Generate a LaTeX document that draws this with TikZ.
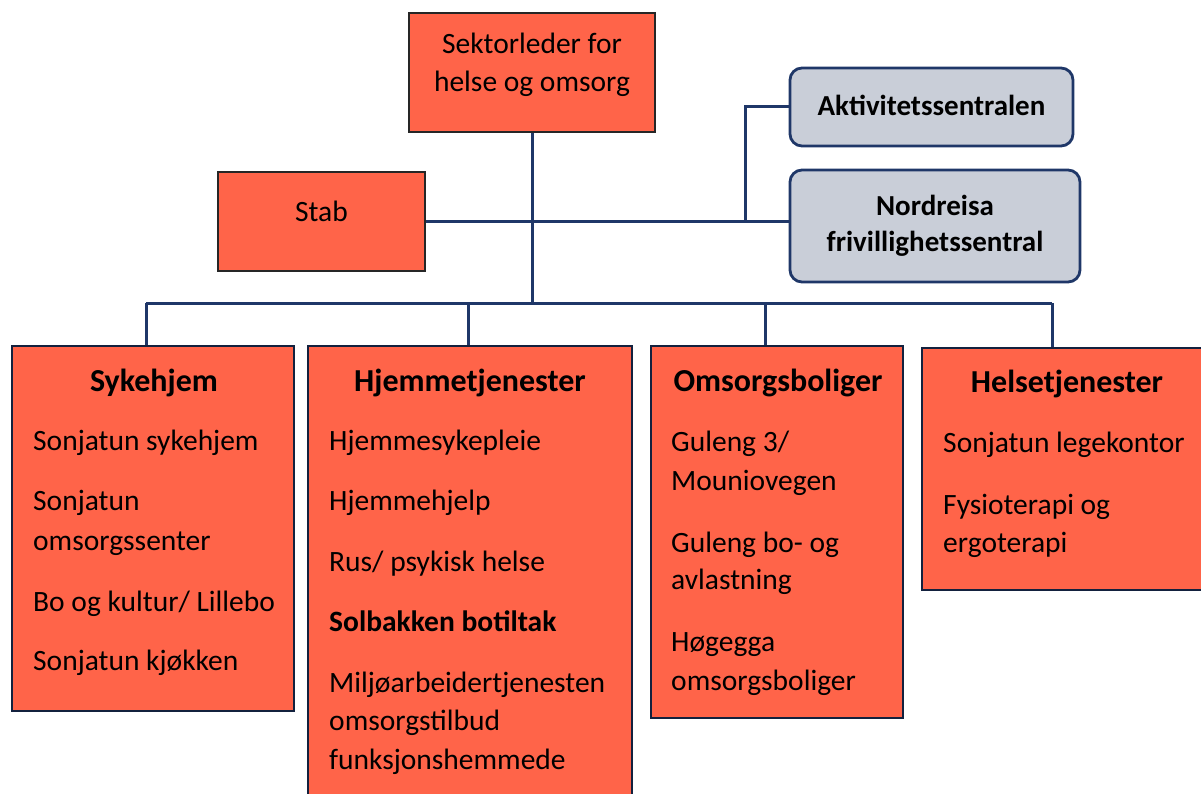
\documentclass[tikz,border=0pt]{standalone}
\usepackage{fontspec}
\setmainfont{Carlito}
\definecolor{boxred}{HTML}{FF6449}
\definecolor{navy}{HTML}{1F3768}
\definecolor{greyblue}{HTML}{C9CED8}
\begin{document}
\begin{tikzpicture}[x=1pt,y=-1pt,
  redbox/.style={draw=navy!60!black, line width=2.8pt, fill=boxred, inner sep=0pt},
  topbox/.style={draw=black!85, line width=2.8pt, fill=boxred, inner sep=0pt},
  toptext/.style={inner sep=0pt, align=center, font=\fontsize{29.5}{38}\selectfont},
  greybox/.style={draw=navy, line width=2.8pt, fill=greyblue, rounded corners=12pt, inner sep=0pt,
                 align=center, font=\fontsize{29}{36}\selectfont\bfseries},
  conn/.style={draw=navy, line width=3pt},
  title/.style={anchor=base, inner sep=0pt, font=\fontsize{32}{36}\selectfont\bfseries},
  item/.style={anchor=base west, inner sep=0pt, font=\fontsize{29.5}{34}\selectfont},
  itemb/.style={item, font=\fontsize{29.5}{34}\selectfont\bfseries}
]
\useasboundingbox (0,0) rectangle (1201,794);

% top boxes
\node[topbox, minimum width=246pt, minimum height=119pt] (sek) at (532,72.5) {};
\node[toptext] (sekt) at (532,65) {Sektorleder for\\helse og omsorg};
\node[topbox, minimum width=207pt, minimum height=99pt] (stab) at (321.5,221.5) {};
\node[toptext] (stabt) at (321.5,211) {Stab};
\node[greybox, minimum width=283pt, minimum height=78pt] (akt) at (931.5,107) {\raisebox{3pt}{Aktivitetssentralen}};
\node[greybox, minimum width=290pt, minimum height=112pt] (nord) at (935,226) {Nordreisa\\frivillighetssentral};

% bottom boxes
\node[redbox, minimum width=282pt, minimum height=365pt] (syk) at (153,528.5) {};
\node[redbox, minimum width=324pt, minimum height=470pt] (hjem) at (470,581) {};
\node[redbox, minimum width=252pt, minimum height=372pt] (oms) at (777,532) {};
\node[redbox, minimum width=300pt, minimum height=242pt] (hel) at (1072,469) {};

% connectors
\coordinate (hub) at (sek.south |- 0,303);
\coordinate (bl) at (146,303);
\coordinate (br) at (1052,303);
\coordinate (brk) at (745,221.5);
\draw[conn] (sek.south) -- (hub);
\draw[conn] (stab.east) -- (stab.east -| nord.west);
\draw[conn] (akt.west) -| (brk);
\draw[conn] (bl) -- (br);
\draw[conn] (bl) -- (syk.north -| bl);
\draw[conn] (468,303) -- (hjem.north -| 468,0);
\draw[conn] (765,303) -- (oms.north -| 765,0);
\draw[conn] (br) -- (hel.north -| br);

% Sykehjem
\node[title] (t1) at (154,391) {Sykehjem};
\node[item] (s1) at (33,450) {Sonjatun sykehjem};
\node[item] (s2) at (33,510) {Sonjatun};
\node[item] (s3) at (33,550) {omsorgssenter};
\node[item] (s4) at (33,611) {Bo og kultur/ Lillebo};
\node[item] (s5) at (33,670) {Sonjatun kjøkken};

% Hjemmetjenester
\node[title] (t2) at (470,391) {Hjemmetjenester};
\node[item] (h1) at (329,450) {Hjemmesykepleie};
\node[item] (h2) at (329,510) {Hjemmehjelp};
\node[item] (h3) at (329,571) {Rus/ psykisk helse};
\node[itemb] (h4) at (329,631) {Solbakken botiltak};
\node[item] (h5) at (329,692) {Miljøarbeidertjenesten};
\node[item] (h6) at (329,730) {omsorgstilbud};
\node[item] (h7) at (329,769) {funksjonshemmede};

% Omsorgsboliger
\node[title] (t3) at (778,391) {Omsorgsboliger};
\node[item] (o1) at (671,451) {Guleng 3/};
\node[item] (o2) at (671,490) {Mouniovegen};
\node[item] (o3) at (671,552) {Guleng bo- og};
\node[item] (o4) at (671,589) {avlastning};
\node[item] (o5) at (671,651) {Høgegga};
\node[item] (o6) at (671,690) {omsorgsboliger};

% Helsetjenester
\node[title] (t4) at (1067,392) {Helsetjenester};
\node[item] (e1) at (943,452) {Sonjatun legekontor};
\node[item] (e2) at (943,514) {Fysioterapi og};
\node[item] (e3) at (943,552) {ergoterapi};
\end{tikzpicture}
\end{document}
